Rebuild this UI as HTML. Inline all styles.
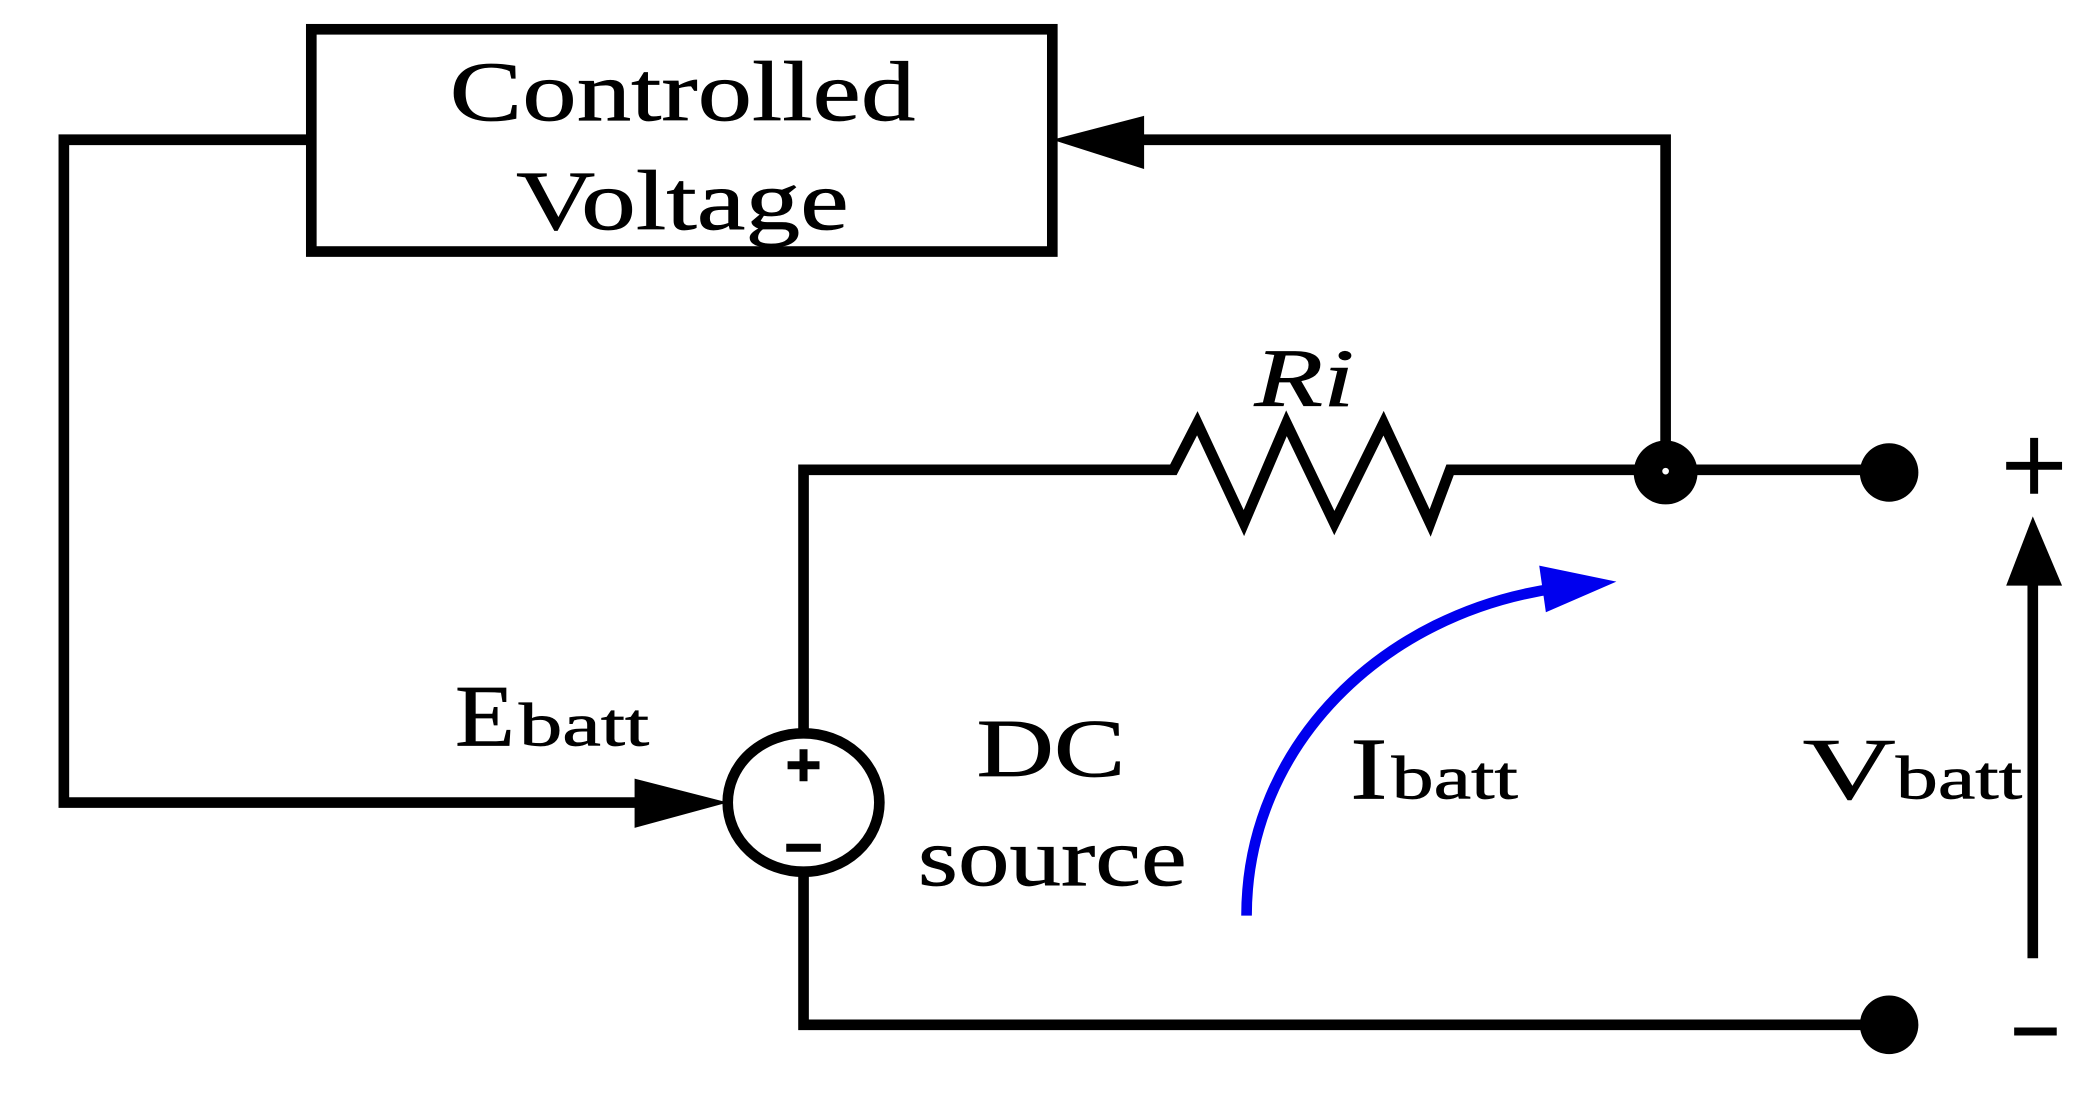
<!DOCTYPE html>
<html><head><style>html,body{margin:0;padding:0;background:#fff;overflow:hidden}</style></head>
<body>
<svg width="2086" height="1098" viewBox="0 0 1568 825" preserveAspectRatio="none" xmlns="http://www.w3.org/2000/svg">
<g fill="none" stroke="#000" stroke-width="8" stroke-linejoin="miter">
<rect x="234" y="22" width="557" height="167"/>
<polyline points="234,105 48,105 48,603 490,603"/>
<polyline points="850,105 1252,105 1252,355"/>
<polyline points="604,550 604,353 882,353 900,318 935,393 967,318 1003,393 1040,318 1075,393 1090,353 1420,353"/>
<polyline points="604,657 604,770 1420,770"/>
<ellipse cx="604" cy="603" rx="57" ry="52"/>
<line x1="1528" y1="720" x2="1528" y2="430"/>
</g>
<polygon points="547,603 477,585 477,622" fill="#000"/>
<polygon points="791,105 860,87 860,127" fill="#000"/>
<polygon points="1528,388 1508,440 1550,440" fill="#000"/>
<circle cx="1252" cy="355" r="24" fill="#000"/>
<circle cx="1252" cy="354" r="2.5" fill="#fff"/>
<circle cx="1420" cy="355" r="22" fill="#000"/>
<circle cx="1420" cy="770" r="22" fill="#000"/>
<path d="M937,688 C937,560 1040,460 1170,442" fill="none" stroke="#0000ee" stroke-width="8"/>
<polygon points="1215,437 1157,425 1162,460" fill="#0000ee"/>
<g stroke="#000" stroke-width="6">
<line x1="592" y1="575" x2="616" y2="575"/><line x1="604" y1="563" x2="604" y2="587"/>
<line x1="591" y1="637" x2="617" y2="637"/>
<line x1="1508" y1="350" x2="1550" y2="350"/><line x1="1529" y1="329" x2="1529" y2="371"/>
<line x1="1514" y1="775" x2="1546" y2="775"/>
</g>
<g font-family="Liberation Serif, serif" fill="#000" stroke="#000" stroke-width="0.5">
<text x="338" y="90" font-size="64" textLength="350" lengthAdjust="spacingAndGlyphs">Controlled</text>
<text x="388" y="172" font-size="64" textLength="250" lengthAdjust="spacingAndGlyphs">Voltage</text>
<text x="943" y="305" font-size="62" font-style="italic" textLength="75" lengthAdjust="spacingAndGlyphs">Ri</text>
<text x="342" y="560" font-size="66" textLength="45" lengthAdjust="spacingAndGlyphs">E</text>
<text x="390" y="560" font-size="46" textLength="98" lengthAdjust="spacingAndGlyphs">batt</text>
<text x="734" y="583" font-size="62" textLength="112" lengthAdjust="spacingAndGlyphs">DC</text>
<text x="690" y="665" font-size="62" textLength="202" lengthAdjust="spacingAndGlyphs">source</text>
<text x="1015" y="600" font-size="66" textLength="28" lengthAdjust="spacingAndGlyphs">I</text>
<text x="1046" y="600" font-size="46" textLength="95" lengthAdjust="spacingAndGlyphs">batt</text>
<text x="1355" y="600" font-size="66" textLength="70" lengthAdjust="spacingAndGlyphs">V</text>
<text x="1425" y="600" font-size="46" textLength="95" lengthAdjust="spacingAndGlyphs">batt</text>
</g>
</svg>
</body></html>
